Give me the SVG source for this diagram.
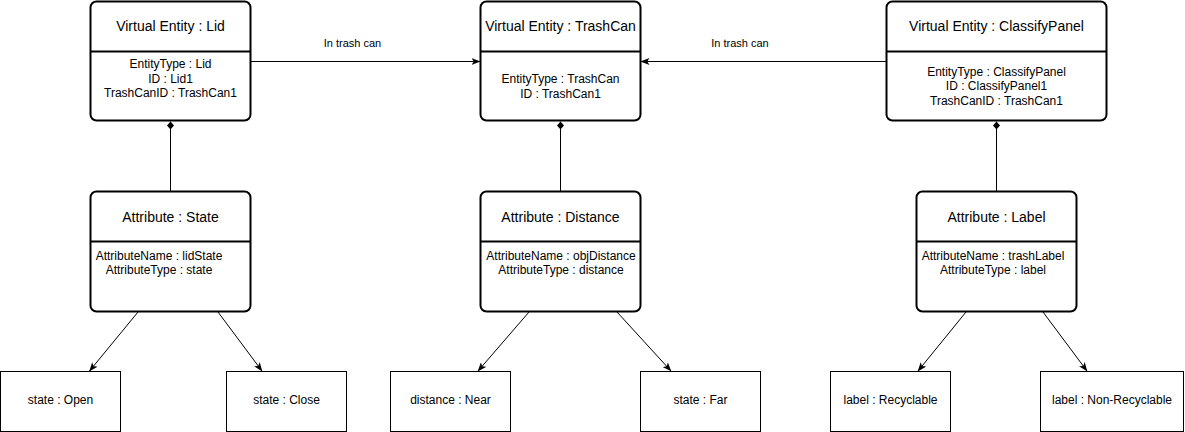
<svg xmlns="http://www.w3.org/2000/svg" width="1185" height="432" viewBox="0 0 1185 432">
<style>
text{font-family:"Liberation Sans",Arial,sans-serif;fill:#000;text-anchor:middle}
.t14{font-size:14px}
.t12{font-size:12px}
.t11{font-size:11px}
.rbox{fill:#fff;stroke:#000;stroke-width:2}
.div{stroke:#000;stroke-width:2;fill:none}
.sbox{fill:#fff;stroke:#000;stroke-width:1}
.edge{stroke:#000;stroke-width:1;fill:none}
</style>
<defs>
<marker id="arrow" markerUnits="userSpaceOnUse" viewBox="0 0 9 7" markerWidth="9" markerHeight="7" refX="8.5" refY="3.5" orient="auto">
<path d="M0,0 L9,3.5 L0,7 L2.2,3.5 z" fill="#000"/>
</marker>
<marker id="diamond" markerUnits="userSpaceOnUse" viewBox="0 0 8 7" markerWidth="8" markerHeight="7" refX="0" refY="3.5" orient="auto">
<path d="M0,3.5 L4,0 L8,3.5 L4,7 z" fill="#000"/>
</marker>
</defs>
<g id="connectors">
<line class="edge" x1="250.5" y1="61.5" x2="480" y2="61.5" marker-end="url(#arrow)"/>
<text class="t11" x="352.5" y="46.7">In trash can</text>
<line class="edge" x1="886.5" y1="61.5" x2="641" y2="61.5" marker-end="url(#arrow)"/>
<text class="t11" x="740" y="46.7">In trash can</text>
<line class="edge" x1="170.5" y1="121.5" x2="170.5" y2="191" marker-start="url(#diamond)"/>
<line class="edge" x1="560.5" y1="121.5" x2="560.5" y2="191" marker-start="url(#diamond)"/>
<line class="edge" x1="996.5" y1="121.5" x2="996.5" y2="191" marker-start="url(#diamond)"/>
<line class="edge" x1="138" y1="312" x2="89.5" y2="371" marker-end="url(#arrow)"/>
<line class="edge" x1="218" y1="312" x2="262" y2="371" marker-end="url(#arrow)"/>
<line class="edge" x1="529" y1="312" x2="478" y2="371" marker-end="url(#arrow)"/>
<line class="edge" x1="617" y1="312" x2="671" y2="371" marker-end="url(#arrow)"/>
<line class="edge" x1="966" y1="312" x2="918" y2="371" marker-end="url(#arrow)"/>
<line class="edge" x1="1043" y1="312" x2="1087" y2="371" marker-end="url(#arrow)"/>
</g>
<g id="entity-lid">
<rect class="rbox" x="90.5" y="1.5" width="160" height="119" rx="6"/>
<line class="div" x1="90.5" y1="51.5" x2="250.5" y2="51.5"/>
<text class="t14" x="170.5" y="31">Virtual Entity : Lid</text>
<text class="t12" x="170.5" y="68">EntityType : Lid</text>
<text class="t12" x="170.5" y="82.5">ID : Lid1</text>
<text class="t12" x="170.5" y="97">TrashCanID : TrashCan1</text>
</g>
<g id="entity-trashcan">
<rect class="rbox" x="480.5" y="1.5" width="160" height="119" rx="6"/>
<line class="div" x1="480.5" y1="51.5" x2="640.5" y2="51.5"/>
<text class="t14" x="560.5" y="31">Virtual Entity : TrashCan</text>
<text class="t12" x="560.5" y="83">EntityType : TrashCan</text>
<text class="t12" x="560.5" y="97.5">ID : TrashCan1</text>
</g>
<g id="entity-classifypanel">
<rect class="rbox" x="886.5" y="1.5" width="220" height="119" rx="6"/>
<line class="div" x1="886.5" y1="51.5" x2="1106.5" y2="51.5"/>
<text class="t14" x="996.5" y="31">Virtual Entity : ClassifyPanel</text>
<text class="t12" x="996.5" y="75.5">EntityType : ClassifyPanel</text>
<text class="t12" x="996.5" y="90">ID : ClassifyPanel1</text>
<text class="t12" x="996.5" y="104.5">TrashCanID : TrashCan1</text>
</g>
<g id="attr-state">
<rect class="rbox" x="90.5" y="191.5" width="160" height="120" rx="6"/>
<line class="div" x1="90.5" y1="241.5" x2="250.5" y2="241.5"/>
<text class="t14" x="170.5" y="221.7">Attribute : State</text>
<text class="t12" x="159" y="259.5">AttributeName : lidState</text>
<text class="t12" x="159" y="273.5">AttributeType : state</text>
</g>
<g id="attr-distance">
<rect class="rbox" x="480.5" y="191.5" width="160" height="120" rx="6"/>
<line class="div" x1="480.5" y1="241.5" x2="640.5" y2="241.5"/>
<text class="t14" x="560.5" y="221.7">Attribute : Distance</text>
<text class="t12" x="561" y="259.5">AttributeName : objDistance</text>
<text class="t12" x="561" y="273.5">AttributeType : distance</text>
</g>
<g id="attr-label">
<rect class="rbox" x="916.5" y="191.5" width="160" height="120" rx="6"/>
<line class="div" x1="916.5" y1="241.5" x2="1076.5" y2="241.5"/>
<text class="t14" x="996.5" y="221.7">Attribute : Label</text>
<text class="t12" x="993" y="259.5">AttributeName : trashLabel</text>
<text class="t12" x="993" y="273.5">AttributeType : label</text>
</g>
<g id="state-open">
<rect class="sbox" x="0.5" y="371.5" width="120" height="60"/>
<text class="t12" x="60.5" y="404.3">state : Open</text>
</g>
<g id="state-close">
<rect class="sbox" x="226.5" y="371.5" width="120" height="60"/>
<text class="t12" x="286.5" y="404.3">state : Close</text>
</g>
<g id="distance-near">
<rect class="sbox" x="390.5" y="371.5" width="120" height="60"/>
<text class="t12" x="450.5" y="404.3">distance : Near</text>
</g>
<g id="state-far">
<rect class="sbox" x="640.5" y="371.5" width="120" height="60"/>
<text class="t12" x="700.5" y="404.3">state : Far</text>
</g>
<g id="label-recyclable">
<rect class="sbox" x="830.5" y="371.5" width="120" height="60"/>
<text class="t12" x="890.5" y="404.3">label : Recyclable</text>
</g>
<g id="label-nonrecyclable">
<rect class="sbox" x="1040.5" y="371.5" width="143" height="60"/>
<text class="t12" x="1112" y="404.3">label : Non-Recyclable</text>
</g>
</svg>
